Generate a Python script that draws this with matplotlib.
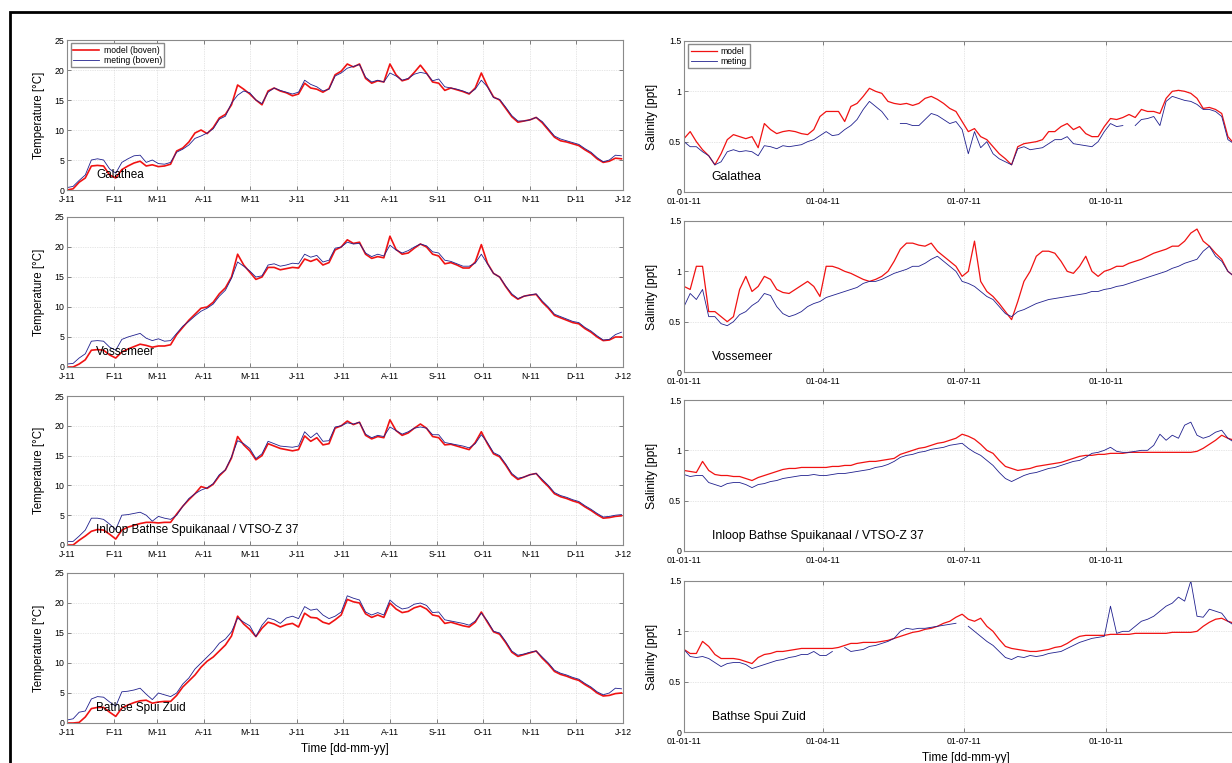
import numpy as np
import pandas as pd
import matplotlib
matplotlib.use('Agg')
import matplotlib.pyplot as plt
import matplotlib.dates as mdates
from matplotlib.patches import Rectangle
from matplotlib.ticker import FuncFormatter, FormatStrFormatter

plt.rcParams['font.family'] = ['Liberation Sans', 'DejaVu Sans']

# 4-daily samples over 2011
dates = pd.date_range('2011-01-01', periods=92, freq='4D')

stations = ['Galathea', 'Vossemeer', 'Inloop Bathse Spuikanaal / VTSO-Z 37', 'Bathse Spui Zuid']

# --- temperature [degC] ---
temp_meting_galathea = [
    0.4, 0.6, 1.6, 2.5, 5.0, 5.2, 5.0, 3.5, 2.8, 4.6,
    5.2, 5.7, 5.8, 4.6, 5.0, 4.4, 4.3, 4.6, 6.3, 6.8,
    7.5, 8.6, 9.0, 9.5, 10.2, 11.8, 12.3, 14.5, 15.8, 16.5,
    16.2, 15.0, 14.4, 16.3, 17.0, 16.6, 16.3, 16.0, 16.3, 18.3,
    17.6, 17.2, 16.5, 16.8, 19.0, 19.5, 20.3, 20.6, 20.9, 18.8,
    18.0, 18.3, 18.0, 19.5, 19.0, 18.3, 18.6, 19.3, 19.6, 19.4,
    18.2, 18.5, 17.2, 17.0, 16.8, 16.5, 16.1, 16.8, 18.3, 17.2,
    15.4, 15.1, 13.8, 12.4, 11.5, 11.5, 11.7, 12.1, 11.4, 10.2,
    9.0, 8.5, 8.2, 7.9, 7.6, 6.9, 6.3, 5.4, 4.7, 5.0,
    5.8, 5.7]
temp_model_galathea = [
    0.0, 0.2, 1.3, 2.0, 4.0, 4.1, 4.0, 2.5, 2.0, 3.4,
    4.0, 4.5, 4.8, 4.0, 4.2, 3.9, 4.0, 4.3, 6.5, 7.0,
    8.0, 9.5, 10.0, 9.4, 10.4, 12.0, 12.6, 14.2, 17.5, 16.8,
    16.0, 15.0, 14.2, 16.5, 17.0, 16.5, 16.2, 15.7, 16.0, 17.8,
    17.0, 16.8, 16.3, 16.9, 19.2, 19.8, 21.0, 20.5, 21.0, 18.6,
    17.8, 18.2, 18.0, 21.0, 19.2, 18.2, 18.5, 19.6, 20.8, 19.5,
    18.0, 17.8, 16.6, 17.0, 16.7, 16.4, 16.0, 17.0, 19.5, 17.3,
    15.5, 15.0, 13.6, 12.2, 11.3, 11.5, 11.7, 12.1, 11.2, 10.0,
    8.8, 8.2, 8.0, 7.7, 7.4, 6.7, 6.1, 5.2, 4.6, 4.8,
    5.3, 5.2]

temp_meting_vossemeer = [
    0.5, 0.6, 1.5, 2.2, 4.3, 4.4, 4.3, 3.3, 2.8, 4.6,
    5.0, 5.3, 5.6, 4.8, 4.4, 4.7, 4.3, 4.4, 5.6, 6.8,
    7.6, 8.5, 9.3, 9.8, 10.5, 11.8, 12.8, 14.8, 17.5, 16.8,
    16.0, 15.0, 15.2, 17.0, 17.2, 16.8, 17.0, 17.3, 17.2, 18.8,
    18.3, 18.6, 17.5, 17.8, 19.8, 20.0, 20.8, 20.5, 20.6, 19.0,
    18.4, 18.8, 18.5, 20.3, 19.5, 19.0, 19.4, 20.0, 20.5, 20.2,
    19.2, 19.0, 17.8, 17.6, 17.2, 16.8, 16.8, 17.3, 18.8, 17.2,
    15.6, 15.0, 13.5, 12.2, 11.4, 11.8, 12.0, 12.2, 11.0, 10.0,
    8.8, 8.4, 8.0, 7.6, 7.4, 6.6, 6.0, 5.2, 4.5, 4.6,
    5.4, 5.8]
temp_model_vossemeer = [
    0.0, 0.0, 0.5, 1.2, 2.8, 2.9, 2.8, 2.0, 1.5, 2.5,
    3.0, 3.4, 3.8, 3.6, 3.3, 3.5, 3.5, 3.7, 5.4, 6.6,
    7.8, 8.8, 9.8, 10.0, 10.8, 12.2, 13.2, 15.0, 18.8, 17.0,
    15.8, 14.6, 15.0, 16.6, 16.6, 16.2, 16.4, 16.6, 16.5, 18.0,
    17.6, 18.0, 17.0, 17.4, 19.5, 20.0, 21.2, 20.6, 20.8, 18.8,
    18.1, 18.4, 18.2, 21.8, 19.6, 18.8, 19.0, 19.8, 20.5, 20.0,
    18.8, 18.5, 17.2, 17.4, 17.0, 16.5, 16.5, 17.5, 20.4, 17.3,
    15.6, 15.0, 13.4, 12.0, 11.3, 11.8, 12.0, 12.1, 10.8, 9.8,
    8.6, 8.2, 7.8, 7.4, 7.2, 6.4, 5.8, 5.0, 4.4, 4.5,
    5.0, 5.0]

temp_meting_inloop = [
    0.6, 0.6, 1.5, 2.5, 4.5, 4.5, 4.3, 3.5, 2.6, 5.0,
    5.1, 5.3, 5.5, 5.0, 4.0, 4.8, 4.5, 4.3, 5.0, 6.5,
    7.8, 8.6, 9.2, 9.6, 10.3, 11.8, 12.6, 14.8, 17.5, 17.0,
    16.2, 14.5, 15.3, 17.4, 17.0, 16.6, 16.5, 16.4, 16.6, 19.0,
    18.0, 18.8, 17.4, 17.5, 19.8, 20.0, 20.5, 20.3, 20.6, 18.6,
    18.0, 18.4, 18.2, 19.8, 19.2, 18.6, 19.0, 19.6, 19.8, 19.6,
    18.5, 18.5, 17.2, 17.0, 16.8, 16.6, 16.3, 17.0, 18.5, 17.2,
    15.5, 15.0, 13.6, 12.0, 11.2, 11.4, 11.8, 12.0, 11.0, 10.0,
    8.8, 8.3, 8.0, 7.6, 7.3, 6.6, 6.0, 5.3, 4.7, 4.8,
    5.0, 5.1]
temp_model_inloop = [
    0.0, 0.0, 0.8, 1.5, 2.3, 2.6, 2.5, 1.8, 1.0, 2.5,
    3.0, 3.3, 3.6, 3.8, 3.8, 3.7, 3.8, 3.8, 5.2, 6.5,
    7.6, 8.6, 9.8, 9.5, 10.2, 11.6, 12.6, 14.6, 18.2, 16.8,
    15.8, 14.3, 15.0, 17.0, 16.6, 16.2, 16.0, 15.8, 16.0, 18.3,
    17.4, 18.0, 16.8, 17.0, 19.6, 20.0, 20.8, 20.2, 20.6, 18.4,
    17.8, 18.2, 18.0, 21.0, 19.2, 18.4, 18.8, 19.6, 20.3, 19.6,
    18.2, 18.0, 16.8, 16.9, 16.6, 16.3, 16.0, 17.2, 19.0, 17.0,
    15.3, 14.8, 13.4, 11.8, 11.0, 11.4, 11.8, 12.0, 10.8, 9.8,
    8.6, 8.1, 7.8, 7.4, 7.1, 6.4, 5.8, 5.1, 4.5, 4.6,
    4.8, 4.9]

temp_meting_bathse = [
    0.5, 0.7, 1.8, 2.0, 4.0, 4.4, 4.3, 3.5, 2.8, 5.2,
    5.3, 5.5, 5.8, 4.8, 3.9, 5.0, 4.7, 4.4, 5.0, 6.5,
    7.5, 9.0, 10.0, 11.0, 12.0, 13.3, 14.0, 15.2, 17.5, 16.8,
    16.2, 14.4, 16.3, 17.5, 17.2, 16.6, 17.5, 17.8, 17.4, 19.4,
    18.8, 19.0, 18.0, 17.4, 17.8, 18.5, 21.2, 20.8, 20.5, 18.5,
    18.0, 18.4, 18.0, 20.5, 19.6, 19.0, 19.2, 19.8, 20.0, 19.6,
    18.4, 18.5, 17.2, 17.0, 16.8, 16.6, 16.3, 17.0, 18.3, 17.0,
    15.3, 15.0, 13.6, 12.0, 11.3, 11.5, 11.8, 12.0, 11.0, 10.0,
    8.8, 8.3, 8.0, 7.6, 7.3, 6.6, 6.0, 5.2, 4.7, 5.0,
    5.8, 5.7]
temp_model_bathse = [
    0.0, 0.0, 0.1, 1.0, 2.4, 2.6, 2.6, 1.8, 1.1, 2.5,
    3.0, 3.4, 3.7, 3.8, 3.3, 3.5, 3.6, 3.6, 4.6, 6.0,
    7.0, 8.0, 9.3, 10.3, 11.0, 12.0, 13.0, 14.5, 17.8, 16.5,
    15.6, 14.4, 15.8, 16.8, 16.5, 16.0, 16.4, 16.6, 16.0, 18.3,
    17.6, 17.5, 16.8, 16.5, 17.2, 18.0, 20.6, 20.2, 20.0, 18.2,
    17.6, 18.0, 17.6, 20.0, 19.0, 18.4, 18.6, 19.2, 19.5, 19.0,
    18.0, 17.8, 16.6, 16.8, 16.5, 16.2, 16.0, 16.8, 18.5, 16.8,
    15.2, 14.8, 13.4, 11.8, 11.1, 11.4, 11.7, 12.0, 10.8, 9.8,
    8.6, 8.1, 7.8, 7.4, 7.1, 6.4, 5.8, 5.0, 4.5, 4.6,
    4.9, 5.0]

# --- salinity [ppt], nan = no measurement ---
nan = np.nan
sal_meting_galathea = [
    0.50, 0.45, 0.45, 0.40, 0.36, 0.27, 0.30, 0.40, 0.42, 0.40,
    0.41, 0.40, 0.36, 0.46, 0.45, 0.43, 0.46, 0.45, 0.46, 0.47,
    0.50, 0.52, 0.56, 0.60, 0.56, 0.57, 0.62, 0.66, 0.72, 0.82,
    0.90, 0.85, 0.80, 0.72, nan, 0.68, 0.68, 0.66, 0.66, 0.72,
    0.78, 0.76, 0.72, 0.68, 0.70, 0.62, 0.38, 0.60, 0.44, 0.50,
    0.38, 0.33, 0.30, 0.27, 0.43, 0.45, 0.42, 0.43, 0.44, 0.48,
    0.52, 0.52, 0.55, 0.48, 0.47, 0.46, 0.45, 0.50, 0.60, 0.68,
    0.65, 0.66, nan, 0.66, 0.72, 0.73, 0.75, 0.66, 0.90, 0.95,
    0.93, 0.91, 0.90, 0.87, 0.82, 0.82, 0.80, 0.75, 0.52, 0.48,
    0.46, 0.45]
sal_model_galathea = [
    0.53, 0.60, 0.50, 0.42, 0.36, 0.27, 0.38, 0.52, 0.57, 0.55,
    0.53, 0.55, 0.44, 0.68, 0.62, 0.58, 0.60, 0.61, 0.60, 0.58,
    0.57, 0.62, 0.75, 0.80, 0.80, 0.80, 0.70, 0.85, 0.88, 0.95,
    1.03, 1.00, 0.98, 0.90, 0.88, 0.87, 0.88, 0.86, 0.88, 0.93,
    0.95, 0.92, 0.88, 0.83, 0.80, 0.70, 0.60, 0.63, 0.55, 0.52,
    0.45, 0.38, 0.33, 0.27, 0.45, 0.48, 0.49, 0.50, 0.52, 0.60,
    0.60, 0.65, 0.68, 0.62, 0.65, 0.58, 0.55, 0.55, 0.65, 0.73,
    0.72, 0.74, 0.77, 0.74, 0.82, 0.80, 0.80, 0.78, 0.93, 1.00,
    1.01, 1.00, 0.98, 0.93, 0.83, 0.84, 0.82, 0.78, 0.55, 0.48,
    0.46, 0.45]

sal_meting_vossemeer = [
    0.65, 0.78, 0.72, 0.82, 0.55, 0.55, 0.48, 0.46, 0.50, 0.57,
    0.60, 0.66, 0.70, 0.78, 0.76, 0.65, 0.58, 0.55, 0.57, 0.60,
    0.65, 0.68, 0.70, 0.74, 0.76, 0.78, 0.80, 0.82, 0.84, 0.88,
    0.90, 0.90, 0.92, 0.95, 0.98, 1.00, 1.02, 1.05, 1.05, 1.08,
    1.12, 1.15, 1.10, 1.05, 1.00, 0.90, 0.88, 0.85, 0.80, 0.75,
    0.72, 0.65, 0.58, 0.55, 0.60, 0.62, 0.65, 0.68, 0.70, 0.72,
    0.73, 0.74, 0.75, 0.76, 0.77, 0.78, 0.80, 0.80, 0.82, 0.83,
    0.85, 0.86, 0.88, 0.90, 0.92, 0.94, 0.96, 0.98, 1.00, 1.03,
    1.05, 1.08, 1.10, 1.12, 1.20, 1.25, 1.15, 1.10, 1.00, 0.95,
    0.92, 0.90]
sal_model_vossemeer = [
    0.85, 0.82, 1.05, 1.05, 0.60, 0.60, 0.55, 0.50, 0.55, 0.82,
    0.95, 0.80, 0.85, 0.95, 0.92, 0.82, 0.79, 0.78, 0.82, 0.86,
    0.90, 0.85, 0.75, 1.05, 1.05, 1.03, 1.00, 0.98, 0.95, 0.92,
    0.90, 0.92, 0.95, 1.00, 1.10, 1.22, 1.28, 1.28, 1.26, 1.25,
    1.28, 1.20, 1.15, 1.10, 1.05, 0.95, 1.00, 1.30, 0.90, 0.80,
    0.75, 0.68, 0.60, 0.52, 0.70, 0.90, 1.00, 1.15, 1.20, 1.20,
    1.18, 1.10, 1.00, 0.98, 1.05, 1.15, 1.00, 0.95, 1.00, 1.02,
    1.05, 1.05, 1.08, 1.10, 1.12, 1.15, 1.18, 1.20, 1.22, 1.25,
    1.25, 1.30, 1.38, 1.42, 1.30, 1.25, 1.18, 1.12, 1.00, 0.95,
    0.92, 0.90]

sal_meting_inloop = [
    0.76, 0.74, 0.75, 0.75, 0.68, 0.66, 0.64, 0.67, 0.68, 0.68,
    0.66, 0.63, 0.66, 0.67, 0.69, 0.70, 0.72, 0.73, 0.74, 0.75,
    0.75, 0.76, 0.75, 0.75, 0.76, 0.77, 0.77, 0.78, 0.79, 0.80,
    0.81, 0.83, 0.84, 0.86, 0.89, 0.93, 0.95, 0.96, 0.98, 0.99,
    1.01, 1.02, 1.03, 1.05, 1.06, 1.07, 1.02, 0.98, 0.95, 0.90,
    0.85, 0.78, 0.72, 0.69, 0.72, 0.75, 0.77, 0.78, 0.80, 0.82,
    0.83, 0.85, 0.87, 0.89, 0.90, 0.93, 0.97, 0.98, 1.00, 1.03,
    0.99, 0.98, 0.98, 0.99, 1.00, 1.00, 1.05, 1.16, 1.10, 1.15,
    1.12, 1.25, 1.28, 1.15, 1.12, 1.14, 1.18, 1.20, 1.12, 1.08,
    1.06, 1.05]
sal_model_inloop = [
    0.80, 0.79, 0.78, 0.89, 0.80, 0.76, 0.75, 0.75, 0.74, 0.74,
    0.72, 0.70, 0.73, 0.75, 0.77, 0.79, 0.81, 0.82, 0.82, 0.83,
    0.83, 0.83, 0.83, 0.83, 0.84, 0.84, 0.85, 0.85, 0.87, 0.88,
    0.89, 0.89, 0.90, 0.91, 0.92, 0.96, 0.98, 1.00, 1.02, 1.03,
    1.05, 1.07, 1.08, 1.10, 1.12, 1.16, 1.14, 1.11, 1.06, 1.00,
    0.97, 0.90, 0.84, 0.82, 0.80, 0.81, 0.82, 0.84, 0.85, 0.86,
    0.87, 0.88, 0.90, 0.92, 0.94, 0.95, 0.95, 0.96, 0.96, 0.97,
    0.97, 0.97, 0.98, 0.98, 0.98, 0.98, 0.98, 0.98, 0.98, 0.98,
    0.98, 0.98, 0.98, 0.99, 1.02, 1.06, 1.10, 1.15, 1.12, 1.10,
    1.08, 1.06]

sal_meting_bathse = [
    0.82, 0.75, 0.74, 0.75, 0.73, 0.69, 0.65, 0.68, 0.69, 0.69,
    0.67, 0.63, 0.65, 0.67, 0.69, 0.71, 0.72, 0.74, 0.75, 0.77,
    0.77, 0.80, 0.76, 0.76, 0.80, nan, 0.84, 0.80, 0.81, 0.82,
    0.85, 0.86, 0.88, 0.90, 0.93, 1.00, 1.03, 1.02, 1.03, 1.03,
    1.04, 1.05, 1.06, 1.07, 1.08, nan, 1.05, 1.00, 0.95, 0.90,
    0.86, 0.80, 0.74, 0.72, 0.75, 0.74, 0.76, 0.75, 0.76, 0.78,
    0.79, 0.80, 0.83, 0.86, 0.89, 0.91, 0.93, 0.94, 0.95, 1.25,
    0.98, 1.00, 1.00, 1.05, 1.10, 1.12, 1.15, 1.20, 1.25, 1.28,
    1.34, 1.30, 1.50, 1.15, 1.14, 1.22, 1.20, 1.18, 1.10, 1.06,
    1.05, 1.04]
sal_model_bathse = [
    0.82, 0.78, 0.78, 0.90, 0.85, 0.77, 0.73, 0.73, 0.73, 0.72,
    0.70, 0.68, 0.74, 0.77, 0.78, 0.80, 0.80, 0.81, 0.82, 0.83,
    0.83, 0.83, 0.83, 0.83, 0.83, 0.84, 0.86, 0.88, 0.88, 0.89,
    0.89, 0.89, 0.90, 0.91, 0.93, 0.95, 0.97, 0.99, 1.00, 1.02,
    1.03, 1.05, 1.08, 1.10, 1.14, 1.17, 1.12, 1.10, 1.13, 1.05,
    1.00, 0.92, 0.85, 0.83, 0.82, 0.81, 0.80, 0.80, 0.81, 0.82,
    0.84, 0.85, 0.88, 0.92, 0.95, 0.96, 0.96, 0.96, 0.96, 0.97,
    0.97, 0.97, 0.97, 0.98, 0.98, 0.98, 0.98, 0.98, 0.98, 0.99,
    0.99, 0.99, 0.99, 1.00, 1.05, 1.09, 1.12, 1.13, 1.10, 1.08,
    1.06, 1.05]

temp_model = [temp_model_galathea, temp_model_vossemeer, temp_model_inloop, temp_model_bathse]
temp_meting = [temp_meting_galathea, temp_meting_vossemeer, temp_meting_inloop, temp_meting_bathse]
sal_model = [sal_model_galathea, sal_model_vossemeer, sal_model_inloop, sal_model_bathse]
sal_meting = [sal_meting_galathea, sal_meting_vossemeer, sal_meting_inloop, sal_meting_bathse]

RED = '#f01212'
BLUE = '#20208e'
W, H = 1232, 763


def place(ax_px):
	# pixel box (left, top, right, bottom) -> figure fraction
	l, t, r, b = ax_px
	return [l / W, 1 - b / H, (r - l) / W, (b - t) / H]


def month_letter(x, pos):
	d = mdates.num2date(x)
	return d.strftime('%b')[0] + d.strftime('-%y')


def style(ax):
	for s in ax.spines.values():
		s.set_color('#8a8a8a')
		s.set_linewidth(0.8)
	ax.tick_params(direction='in', length=3, width=0.6, color='#6a6a6a',
		labelsize=6.3, top=True, right=True)
	ax.tick_params(axis='y', pad=2)
	ax.tick_params(axis='x', pad=3.5)
	ax.grid(True, color='#cfcfcf', linestyle=(0, (1, 1.5)), linewidth=0.5)
	ax.set_axisbelow(True)


def main():
	fig = plt.figure(figsize=(W / 100, H / 100), dpi=100)

	left_rows = [(40, 190), (217, 367), (396, 545), (573, 723)]
	right_rows = [(41, 192), (221, 372), (400, 551), (581, 732)]
	start, end = pd.Timestamp('2011-01-01'), pd.Timestamp('2012-01-01')
	quarters = pd.to_datetime(['2011-01-01', '2011-04-01', '2011-07-01', '2011-10-01'])

	for k in range(4):
		# temperature column
		ax = fig.add_axes(place((67, left_rows[k][0], 623, left_rows[k][1])))
		style(ax)
		ax.plot(dates, temp_model[k], color=RED, lw=1.2, label='model (boven)')
		ax.plot(dates, temp_meting[k], color=BLUE, lw=0.6, label='meting (boven)')
		ax.set_xlim(start, end)
		ax.set_ylim(0, 25)
		ax.set_yticks([0, 5, 10, 15, 20, 25])
		ax.xaxis.set_major_locator(mdates.MonthLocator())
		ax.xaxis.set_major_formatter(FuncFormatter(month_letter))
		ax.set_ylabel('Temperature [°C]', fontsize=8.3)
		ax.yaxis.set_label_coords(-0.04, 0.5)
		ax.text(pd.Timestamp('2011-01-20'), 2.5, stations[k], fontsize=8.5, va='center')
		if k == 0:
			ax.legend(loc='upper left', bbox_to_anchor=(0.007, 0.98), borderaxespad=0,
				fontsize=6.2, handlelength=3.0, handletextpad=0.5, labelspacing=0.15,
				borderpad=0.3, fancybox=False, edgecolor='#8a8a8a', framealpha=1)
		if k == 3:
			ax.set_xlabel('Time [dd-mm-yy]', fontsize=8.5)
			ax.xaxis.set_label_coords(0.5, -0.135)

		# salinity column, runs past the right edge
		ax = fig.add_axes(place((684, right_rows[k][0], 1248, right_rows[k][1])))
		style(ax)
		ax.plot(dates, sal_model[k], color=RED, lw=0.9, label='model')
		ax.plot(dates, sal_meting[k], color=BLUE, lw=0.6, label='meting')
		ax.set_xlim(start, end)
		ax.set_ylim(0, 1.5)
		ax.set_yticks([0, 0.5, 1, 1.5])
		ax.yaxis.set_major_formatter(FormatStrFormatter('%g'))
		ax.set_xticks(quarters)
		ax.xaxis.set_major_formatter(mdates.DateFormatter('%d-%m-%y'))
		ax.set_ylabel('Salinity [ppt]', fontsize=8.7)
		ax.yaxis.set_label_coords(-0.046, 0.5)
		ax.text(pd.Timestamp('2011-01-19'), 0.15, stations[k], fontsize=8.8, va='center')
		if k == 0:
			ax.legend(loc='upper left', bbox_to_anchor=(0.007, 0.98), borderaxespad=0,
				fontsize=6.2, handlelength=3.1, handletextpad=0.4, labelspacing=0.15,
				borderpad=0.3, fancybox=False, edgecolor='#8a8a8a', framealpha=1)
		if k == 3:
			ax.set_xlabel('Time [dd-mm-yy]', fontsize=8.5)
			ax.xaxis.set_label_coords(0.5, -0.133)

	# black frame around the whole sheet
	fig.patches.append(Rectangle((10 / W, -0.1), 1.2, 1.1 - 12 / H, transform=fig.transFigure,
		fill=False, edgecolor='black', linewidth=2.0))

	fig.savefig('out.png', dpi=100)


if __name__ == '__main__':
	main()
